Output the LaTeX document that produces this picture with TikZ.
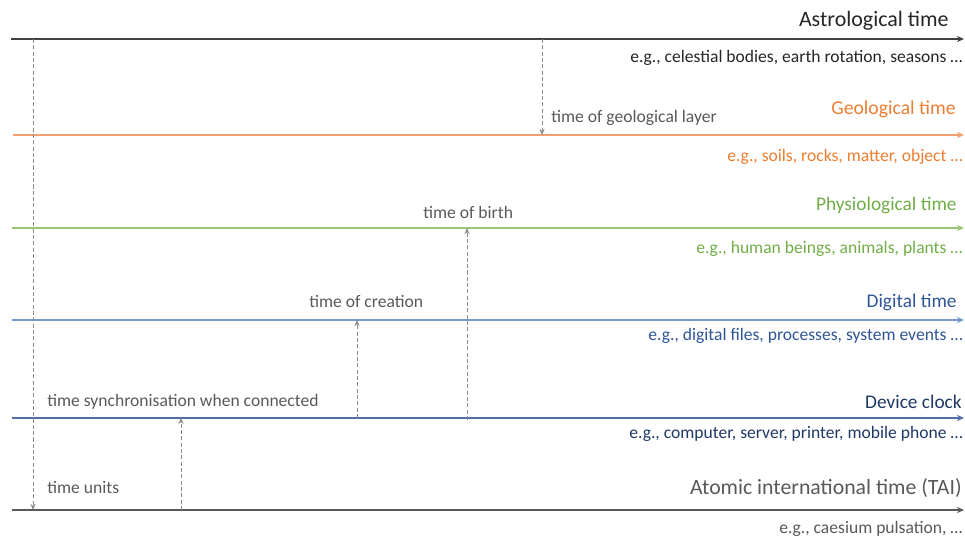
\documentclass[tikz,border=0pt]{standalone}
\usepackage{fontspec}
\setmainfont{Carlito}
\usetikzlibrary{arrows.meta}
\definecolor{astro}     {RGB}{38,38,38}
\definecolor{astroline} {RGB}{64,64,64}
\definecolor{geo}       {RGB}{237,125,49}
\definecolor{geoline}   {RGB}{244,160,110}
\definecolor{physio}    {RGB}{112,173,71}
\definecolor{physioline}{RGB}{150,200,115}
\definecolor{digital}   {RGB}{47,85,151}
\definecolor{digiline}  {RGB}{120,150,210}
\definecolor{device}    {RGB}{31,56,100}
\definecolor{deviceline}{RGB}{80,110,165}
\definecolor{atomic}    {RGB}{89,89,89}
\definecolor{hint}      {RGB}{89,89,89}

\begin{document}
\begin{tikzpicture}[x=0.02cm, y=-0.02cm,
          timeline/.style={-{Stealth[length=4pt,width=3.5pt]},line width=0.6pt},
          tltitle/.style={anchor=east,inner sep=0pt,font=\fontsize{11}{13}\selectfont},
          tlexample/.style={anchor=east,inner sep=0pt,font=\fontsize{10}{12}\selectfont},
          note/.style={anchor=west,inner sep=0pt,text=hint,font=\fontsize{10}{12}\selectfont},
          link/.style={-{Stealth[length=3.5pt,width=3pt]},draw=gray!90,line width=0.5pt,
                       dash pattern=on 2.3pt off 1.3pt}
      ]
        \useasboundingbox (0,0) rectangle (965,536);
        % time lines
        \coordinate (astroL)   at (11, 39);  \coordinate (astroR)   at (964, 39);
        \coordinate (geoL)     at (13,135);  \coordinate (geoR)     at (964,135);
        \coordinate (physioL)  at (12,228);  \coordinate (physioR)  at (964,228);
        \coordinate (digitalL) at (12,320);  \coordinate (digitalR) at (964,320);
        \coordinate (deviceL)  at (12,418);  \coordinate (deviceR)  at (964,418);
        \coordinate (atomicL)  at (12,510);  \coordinate (atomicR)  at (964,510);
        \draw[timeline,astroline,line width=1.1pt] (astroL) -- (astroR);
        \draw[timeline,geoline]    (geoL)     -- (geoR);
        \draw[timeline,physioline] (physioL)  -- (physioR);
        \draw[timeline,digiline]   (digitalL) -- (digitalR);
        \draw[timeline,deviceline] (deviceL)  -- (deviceR);
        \draw[timeline,atomic,line width=0.9pt] (atomicL) -- (atomicR);
        % titles and examples
        \node[tltitle,text=astro,font=\fontsize{12.5}{15}\selectfont] (astroT) at (949, 21) {Astrological time};
        \node[tlexample,text=astro]   (astroE)   at (963, 58)  {e.g., celestial bodies, earth rotation, seasons …};
        \node[tltitle,text=geo,font=\fontsize{11.2}{13}\selectfont] (geoT) at (956,109) {Geological time};
        \node[tlexample,text=geo]     (geoE)     at (963,157)  {e.g., soils, rocks, matter, object …};
        \node[tltitle,text=physio]    (physioT)  at (957,205)  {Physiological time};
        \node[tlexample,text=physio]  (physioE)  at (963,249)  {e.g., human beings, animals, plants …};
        \node[tltitle,text=digital]   (digitalT) at (957,302)  {Digital time};
        \node[tlexample,text=digital] (digitalE) at (963,336)  {e.g., digital files, processes, system events …};
        \node[tltitle,text=device]    (deviceT)  at (962,402)  {Device clock};
        \node[tlexample,text=device]  (deviceE)  at (963,434)  {e.g., computer, server, printer, mobile phone …};
        \node[tltitle,text=atomic,font=\fontsize{12.4}{15}\selectfont] (atomicT) at (962,488) {Atomic international time (TAI)};
        \node[tlexample,text=atomic]  (atomicE)  at (963,529)  {e.g., caesium pulsation, …};
        % relations
        \coordinate (unitsA)  at (33, 39);  \coordinate (unitsB)  at (33,510);
        \coordinate (layerA)  at (542,39);  \coordinate (layerB)  at (542,135);
        \coordinate (syncA)   at (181,510); \coordinate (syncB)   at (181,418);
        \coordinate (createA) at (357,418); \coordinate (createB) at (357,320);
        \coordinate (birthA)  at (467,420); \coordinate (birthB)  at (467,228);
        \draw[link] (unitsA)  -- (unitsB);
        \draw[link] (layerA)  -- (layerB);
        \draw[link] (syncA)   -- (syncB);
        \draw[link] (createA) -- (createB);
        \draw[link] (birthA)  -- (birthB);
        \node[note] (unitsN)  at (47,487)  {time units};
        \node[note] (layerN)  at (551,118) {time of geological layer};
        \node[note] (syncN)   at (47,402)  {time synchronisation when connected};
        \node[note] (createN) at (309,301) {time of creation};
        \node[note] (birthN)  at (423,212) {time of birth};
      \end{tikzpicture}
\end{document}
